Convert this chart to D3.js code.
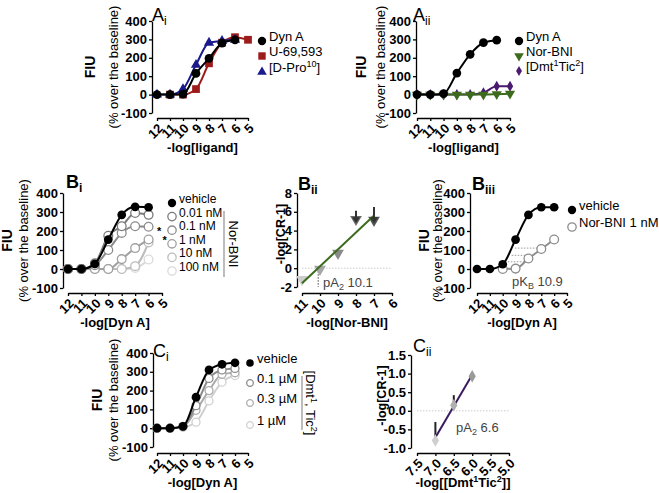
<!DOCTYPE html>
<html>
<head>
<meta charset="utf-8">
<script src="https://cdn.jsdelivr.net/npm/d3@7"></script>
<style>
  body { margin: 0; background: #fff; }
  text { font-family: 'Liberation Sans', Arial, sans-serif; }
</style>
</head>
<body>
<svg id="fig" width="659" height="493"></svg>
<script>
// ---- data ----
const logConc = [12, 11, 10, 9, 8, 7, 6, 5]

// A i : FIU vs -log[ligand]
const aiDynA = [0, 0, 3, 115, 197, 280, 297, null]
const aiU69593 = [null, 0, 0, 30, 170, 282, 312, 298]
const aiDPro10 = [0, 0, 30, 162, 282, 292, 298, null]

// A ii
const aiiDynA = [0, 0, 5, 117, 219, 282, 296, null]
const aiiNorBNI = [0, 0, 0, 0, 0, 0, 2, 5]
const aiiDmtTic = [0, 0, 0, 0, 0, 10, 45, 45]

// B i : Dyn A with Nor-BNI
const biVehicle = [0, 0, 27, 155, 285, 327, 325, null]
const biNor001 = [0, 0, 30, 175, 225, 295, 285, null]
const biNor01 = [0, 0, 20, 100, 190, 225, 222, null]
const biNor1 = [0, 0, 0, 0, 52, 110, 155, null]
const biNor10 = [0, 0, 0, 0, 0, 15, 140, null]
const biNor100 = [0, 0, 0, 0, 0, 5, 50, null]
const biStars = [{ x: 157, y: 228.5 }, { x: 162.5, y: 237.5 }] // significance stars (pixels)

// B ii : Schild plot Nor-BNI
const biiLogNor = [11, 10, 9, 8, 7]
const biiLogCR = [-1.2, -0.1, 1.6, 5.2, 5.1]
const biiFitX = [11, 7]
const biiFitY = [-1.6, 5.6]
const biiArrows = [{ x: 8, from: 6.1, to: 4.9 }, { x: 7, from: 6.5, to: 4.9 }]
const biiPA2 = 10.1

// B iii : vehicle vs Nor-BNI 1 nM
const biiiVehicle = [0, 0, 25, 155, 285, 325, 325, null]
const biiiNor1 = [null, null, 0, 2, 55, 105, 155, null]
const biiiShifts = [{ y: 110, x1: 9.05, x2: 7.0 }, { y: 72, x1: 9.3, x2: 7.6 }, { y: 38, x1: 9.6, x2: 8.1 }]

// C i : Dyn A with [Dmt1,Tic2]
const ciVehicle = [0, 0, 10, 165, 310, 340, 348, null]
const ciDmt01 = [0, 0, 10, 120, 265, 310, 318, null]
const ciDmt03 = [0, 0, 8, 95, 200, 287, 295, null]
const ciDmt1 = [0, 0, 5, 32, 145, 245, 280, null]

// C ii : Schild plot [Dmt1Tic2]
const ciiLogDmt = [7.0, 6.5, 6.0]
const ciiLogCR = [-0.8, 0.15, 0.93]
const ciiErrTop = [-0.3, 0.42, 1.0]
const ciiFitX = [7.0, 6.0]
const ciiFitY = [-0.72, 0.97]

const fiuTicks = [400, 300, 200, 100, 0, -100]

const svg = d3.select('#fig')

function panel (o) {
  const g = svg.append('g')
  const x = d3.scaleLinear().domain(o.xDom).range(o.xRange)
  const y = d3.scaleLinear().domain(o.yDom).range(o.yRange)
  const fmt = o.fmt || (d => String(d))
  const ya = g.append('g')
    .attr('transform', 'translate(' + o.axisX + ',0)')
    .call(d3.axisLeft(y).tickValues(o.yTicks).tickSize(3).tickSizeOuter(0).tickPadding(2).tickFormat(fmt))
  ya.selectAll('text').attr('font-size', 13).attr('font-weight', 'bold').attr('fill', '#000')
  const xa = g.append('g')
    .attr('transform', 'translate(0,' + o.axisY + ')')
    .call(d3.axisBottom(x).tickValues(o.xTicks).tickSize(3).tickSizeOuter(0).tickFormat(fmt))
  xa.selectAll('text')
    .attr('y', null).attr('dy', '0.35em')
    .attr('transform', 'translate(3,8) rotate(-45)')
    .attr('text-anchor', 'end')
    .attr('font-size', 13).attr('font-weight', 'bold').attr('fill', '#000')
  g.selectAll('.domain, .tick line').attr('stroke', '#000').attr('stroke-width', 1.3)
  // x title
  const xt = g.append('text')
    .attr('x', (o.xRange[0] + o.xRange[1]) / 2).attr('y', o.axisY + 34)
    .attr('text-anchor', 'middle').attr('font-size', 13).attr('font-weight', 'bold')
  o.xTitle.forEach(p => xt.append('tspan').text(p.t)
    .attr('font-size', p.sup ? 9 : 13).attr('dy', p.sup ? -5 : (p.back ? 5 : 0)))
  // y title
  const cy = (o.yRange[0] + o.yRange[1]) / 2
  if (o.fiu) {
    g.append('text').attr('transform', 'translate(' + (o.axisX + o.fiu[0]) + ',' + cy + ') rotate(-90)')
      .attr('text-anchor', 'middle').attr('font-size', 14).attr('font-weight', 'bold').attr('dy', '0.35em').text('FIU')
    g.append('text').attr('transform', 'translate(' + (o.axisX + o.fiu[1]) + ',' + cy + ') rotate(-90)')
      .attr('text-anchor', 'middle').attr('font-size', 13).attr('dy', '0.35em').text('(% over the baseline)')
  } else {
    g.append('text').attr('transform', 'translate(' + (o.axisX + o.yOff) + ',' + (cy - 6) + ') rotate(-90)')
      .attr('text-anchor', 'middle').attr('font-size', 12.5).attr('font-weight', 'bold').attr('dy', '0.35em').text('-log[CR-1]')
  }
  // panel title
  const tt = g.append('text').attr('x', o.title.x).attr('y', o.title.y)
    .attr('font-size', 18).attr('font-weight', o.title.bold ? 'bold' : 'normal')
  tt.append('tspan').text(o.title.l)
  tt.append('tspan').text(o.title.s).attr('font-size', 12).attr('dy', 4)
  return { g, x, y }
}

function symbolPath (type, size) {
  const t = { circle: d3.symbolCircle, square: d3.symbolSquare, triangle: d3.symbolTriangle, down: d3.symbolTriangle, diamond: d3.symbolDiamond, cross: d3.symbolCross }[type]
  return d3.symbol().type(t).size(size)()
}

function series (p, vals, st) {
  const pts = logConc.map((c, i) => ({ c, v: vals[i] })).filter(d => d.v !== null)
  const line = d3.line().x(d => p.x(d.c)).y(d => p.y(d.v)).curve(d3.curveMonotoneX)
  p.g.append('path').datum(pts).attr('d', line)
    .attr('fill', 'none').attr('stroke', st.color).attr('stroke-width', st.lw || 2)
  p.g.selectAll(null).data(pts).enter().append('path')
    .attr('d', symbolPath(st.shape, st.size || 60))
    .attr('transform', d => 'translate(' + p.x(d.c) + ',' + p.y(d.v) + ')' + (st.shape === 'down' ? ' rotate(180)' : ''))
    .attr('fill', st.open ? '#fff' : st.color)
    .attr('stroke', st.color).attr('stroke-width', st.open ? 1.3 : 0)
}

function legend (x, rows, fs) {
  fs = fs || 13
  rows.forEach(r => {
    svg.append('path').attr('d', symbolPath(r.shape, r.size || 55))
      .attr('transform', 'translate(' + x + ',' + r.y + ')' + (r.shape === 'down' ? ' rotate(180)' : ''))
      .attr('fill', r.open ? '#fff' : r.color).attr('stroke', r.color).attr('stroke-width', r.open ? 1.3 : 0)
    const t = svg.append('text').attr('x', x + 7).attr('y', r.y).attr('dy', '0.35em').attr('font-size', fs)
    r.parts.forEach(q => t.append('tspan').text(q.t)
      .attr('font-size', q.sup ? 9 : fs).attr('dy', q.sup ? -5 : (q.back ? 5 : 0)))
  })
}

const T = t => ({ t })
const S = t => ({ t, sup: true })
const B = t => ({ t, back: true })

// ---------- A i ----------
const pAi = panel({
  xDom: [12, 5], xRange: [157, 248], yDom: [-100, 400], yRange: [113, 21],
  axisX: 152, axisY: 118, xTicks: logConc, yTicks: fiuTicks, fiu: [-62, -39],
  xTitle: [T('-log[ligand]')], title: { x: 152, y: 21, l: 'A', s: 'i' }
})
series(pAi, aiU69593, { color: '#9e1b1b', shape: 'square', size: 60 })
series(pAi, aiDPro10, { color: '#1a1a8c', shape: 'triangle', size: 45 })
series(pAi, aiDynA, { color: '#000', shape: 'circle', size: 60 })
legend(262, [
  { y: 41, color: '#000', shape: 'circle', parts: [T('Dyn A')] },
  { y: 56, color: '#9e1b1b', shape: 'square', parts: [T('U-69,593')] },
  { y: 72, color: '#1a1a8c', shape: 'triangle', size: 40, parts: [T('[D-Pro'), S('10'), B(']')] }
])

// ---------- A ii ----------
const pAii = panel({
  xDom: [12, 5], xRange: [417, 510], yDom: [-100, 400], yRange: [113, 21],
  axisX: 416, axisY: 118, xTicks: logConc, yTicks: fiuTicks, fiu: [-55, -36],
  xTitle: [T('-log[ligand]')], title: { x: 413, y: 21, l: 'A', s: 'ii' }
})
series(pAii, aiiDmtTic, { color: '#4a1a6e', shape: 'diamond', size: 35 })
series(pAii, aiiNorBNI, { color: '#3d6b1e', shape: 'down', size: 45 })
series(pAii, aiiDynA, { color: '#000', shape: 'circle', size: 60 })
legend(519, [
  { y: 41, color: '#000', shape: 'circle', parts: [T('Dyn A')] },
  { y: 56, color: '#3d6b1e', shape: 'down', size: 40, parts: [T('Nor-BNI')] },
  { y: 71, color: '#4a1a6e', shape: 'diamond', size: 30, parts: [T('[Dmt'), S('1'), B('Tic'), S('2'), B(']')] }
])

// ---------- B i ----------
const pBi = panel({
  xDom: [12, 5], xRange: [68, 162], yDom: [-100, 400], yRange: [288, 193],
  axisX: 63, axisY: 293, xTicks: logConc, yTicks: fiuTicks, fiu: [-56, -40],
  xTitle: [T('-log[Dyn A]')], title: { x: 66, y: 188, l: 'B', s: 'i', bold: true }
})
const biGreys = ['#7a7a7a', '#8c8c8c', '#a0a0a0', '#bdbdbd', '#dadada']
series(pBi, biNor100, { color: biGreys[4], shape: 'circle', open: true })
series(pBi, biNor10, { color: biGreys[3], shape: 'circle', open: true })
series(pBi, biNor1, { color: biGreys[2], shape: 'circle', open: true })
series(pBi, biNor01, { color: biGreys[1], shape: 'circle', open: true })
series(pBi, biNor001, { color: biGreys[0], shape: 'circle', open: true })
series(pBi, biVehicle, { color: '#000', shape: 'circle' })
pBi.g.selectAll(null).data(biStars).enter().append('text')
  .attr('x', d => d.x).attr('y', d => d.y + 6.4).attr('font-size', 11).attr('font-weight', 'bold').text('*')
legend(172, [
  { y: 203, color: '#000', shape: 'circle', parts: [T('vehicle')] },
  { y: 216.6, color: biGreys[0], shape: 'circle', open: true, parts: [T('0.01 nM')] },
  { y: 230.2, color: biGreys[1], shape: 'circle', open: true, parts: [T('0.1 nM')] },
  { y: 243.8, color: biGreys[2], shape: 'circle', open: true, parts: [T('1 nM')] },
  { y: 257.4, color: biGreys[3], shape: 'circle', open: true, parts: [T('10 nM')] },
  { y: 271, color: biGreys[4], shape: 'circle', open: true, parts: [T('100 nM')] }
], 12)
svg.append('line').attr('x1', 224).attr('x2', 224).attr('y1', 211).attr('y2', 277).attr('stroke', '#999').attr('stroke-width', 1.3)
svg.append('text').attr('transform', 'translate(229,244) rotate(90)').attr('text-anchor', 'middle')
  .attr('font-size', 13).text('Nor-BNI')

// ---------- B ii ----------
const pBii = panel({
  xDom: [11, 6], xRange: [302, 392], yDom: [-2, 8], yRange: [287, 193],
  axisX: 297, axisY: 293, xTicks: [11, 10, 9, 8, 7, 6], yTicks: [8, 6, 4, 2, 0, -2], yOff: -16,
  xTitle: [T('-log[Nor-BNI]')], title: { x: 298, y: 190, l: 'B', s: 'ii', bold: true }
})
pBii.g.append('line').attr('x1', pBii.x(11)).attr('x2', pBii.x(6)).attr('y1', pBii.y(0)).attr('y2', pBii.y(0))
  .attr('stroke', '#ccc').attr('stroke-dasharray', '1.5,1.5')
pBii.g.append('line').attr('x1', pBii.x(biiPA2)).attr('x2', pBii.x(biiPA2)).attr('y1', pBii.y(0)).attr('y2', pBii.y(-2))
  .attr('stroke', '#444').attr('stroke-dasharray', '1.5,1.5')
const biiTri = ['#cdcdcd', '#a6a6a6', '#8a8a8a', '#6a6a6a', '#555']
pBii.g.selectAll(null).data(biiLogNor).enter().append('path')
  .attr('d', symbolPath('down', 60))
  .attr('transform', (d, i) => 'translate(' + pBii.x(d) + ',' + pBii.y(biiLogCR[i]) + ') rotate(180)')
  .attr('fill', (d, i) => biiTri[i])
pBii.g.append('path').datum(biiFitX.map((d, i) => [d, biiFitY[i]]))
  .attr('d', d3.line().x(d => pBii.x(d[0])).y(d => pBii.y(d[1])))
  .attr('stroke', '#3a6b1e').attr('stroke-width', 2).attr('fill', 'none')
biiArrows.forEach(a => {
  const ax = pBii.x(a.x); const y1 = pBii.y(a.from); const y2 = pBii.y(a.to)
  pBii.g.append('line').attr('x1', ax).attr('x2', ax).attr('y1', y1).attr('y2', y2 - 3)
    .attr('stroke', '#333').attr('stroke-width', 2)
  pBii.g.append('path').attr('d', 'M' + (ax - 4) + ',' + (y2 - 5) + 'L' + (ax + 4) + ',' + (y2 - 5) + 'L' + ax + ',' + (y2 + 1) + 'Z')
    .attr('fill', '#333')
})
const pa2 = pBii.g.append('text').attr('x', 323).attr('y', 287).attr('font-size', 13).attr('fill', '#444')
pa2.append('tspan').text('pA')
pa2.append('tspan').text('2').attr('font-size', 9).attr('dy', 3)
pa2.append('tspan').text(' 10.1').attr('dy', -3)

// ---------- B iii ----------
const pBiii = panel({
  xDom: [12, 5], xRange: [477, 567], yDom: [-100, 400], yRange: [288, 193],
  axisX: 470, axisY: 293, xTicks: logConc, yTicks: fiuTicks, fiu: [-46, -33],
  xTitle: [T('-log[Dyn A]')], title: { x: 472, y: 190, l: 'B', s: 'iii', bold: true }
})
pBiii.g.selectAll(null).data(biiiShifts).enter().append('line')
  .attr('x1', d => pBiii.x(d.x1)).attr('x2', d => pBiii.x(d.x2))
  .attr('y1', d => pBiii.y(d.y)).attr('y2', d => pBiii.y(d.y))
  .attr('stroke', '#999').attr('stroke-dasharray', '1.5,1.5')
series(pBiii, biiiNor1, { color: '#8c8c8c', shape: 'circle', open: true })
series(pBiii, biiiVehicle, { color: '#000', shape: 'circle' })
const pkb = pBiii.g.append('text').attr('x', 512).attr('y', 286).attr('font-size', 13).attr('fill', '#444')
pkb.append('tspan').text('pK')
pkb.append('tspan').text('B').attr('font-size', 9).attr('dy', 3)
pkb.append('tspan').text(' 10.9').attr('dy', -3)
legend(572, [
  { y: 210, color: '#000', shape: 'circle', parts: [T('vehicle')] },
  { y: 227, color: '#8c8c8c', shape: 'circle', open: true, parts: [T('Nor-BNI 1 nM')] }
])

// ---------- C i ----------
const pCi = panel({
  xDom: [12, 5], xRange: [157, 248], yDom: [-100, 400], yRange: [447, 353],
  axisX: 153, axisY: 453, xTicks: logConc, yTicks: fiuTicks, fiu: [-56, -40],
  xTitle: [T('-log[Dyn A]')], title: { x: 153, y: 357, l: 'C', s: 'i' }
})
const ciGreys = ['#8a8a8a', '#ababab', '#d0d0d0']
series(pCi, ciDmt1, { color: ciGreys[2], shape: 'circle', open: true, size: 50 })
series(pCi, ciDmt03, { color: ciGreys[1], shape: 'circle', open: true, size: 50 })
series(pCi, ciDmt01, { color: ciGreys[0], shape: 'circle', open: true, size: 50 })
series(pCi, ciVehicle, { color: '#000', shape: 'circle' })
legend(250, [
  { y: 363, color: '#000', shape: 'circle', size: 45, parts: [T('vehicle')] },
  { y: 383, color: ciGreys[0], shape: 'circle', open: true, size: 35, parts: [T('0.1 µM')] },
  { y: 403, color: ciGreys[1], shape: 'circle', open: true, size: 35, parts: [T('0.3 µM')] },
  { y: 425, color: ciGreys[2], shape: 'circle', open: true, size: 35, parts: [T('1 µM')] }
])
svg.append('line').attr('x1', 302).attr('x2', 302).attr('y1', 376).attr('y2', 430).attr('stroke', '#999').attr('stroke-width', 1.3)
const dmtLab = svg.append('text').attr('transform', 'translate(306,403) rotate(90)').attr('text-anchor', 'middle')
  .attr('font-size', 13)
dmtLab.append('tspan').text('[Dmt')
dmtLab.append('tspan').text('1').attr('font-size', 9).attr('dy', -5)
dmtLab.append('tspan').text(', Tic').attr('dy', 5)
dmtLab.append('tspan').text('2').attr('font-size', 9).attr('dy', -5)
dmtLab.append('tspan').text(']').attr('dy', 5)

// ---------- C ii ----------
const pCii = panel({
  xDom: [7.5, 5.0], xRange: [417, 509], yDom: [-1.0, 1.5], yRange: [448, 355],
  axisX: 411, axisY: 453, xTicks: [7.5, 7.0, 6.5, 6.0, 5.5, 5.0], yTicks: [1.5, 1.0, 0.5, 0.0, -0.5, -1.0], yOff: -29,
  fmt: d => d.toFixed(1),
  xTitle: [T('-log[[Dmt'), S('1'), B('Tic'), S('2'), B(']]')], title: { x: 413, y: 352, l: 'C', s: 'ii' }
})
pCii.g.append('line').attr('x1', pCii.x(7.5)).attr('x2', pCii.x(5.0)).attr('y1', pCii.y(0)).attr('y2', pCii.y(0))
  .attr('stroke', '#ccc').attr('stroke-dasharray', '1.5,1.5')
pCii.g.selectAll(null).data(ciiLogDmt).enter().append('line')
  .attr('x1', d => pCii.x(d)).attr('x2', d => pCii.x(d))
  .attr('y1', (d, i) => pCii.y(ciiLogCR[i])).attr('y2', (d, i) => pCii.y(ciiErrTop[i]))
  .attr('stroke', '#222').attr('stroke-width', 2)
pCii.g.append('path').datum(ciiFitX.map((d, i) => [d, ciiFitY[i]]))
  .attr('d', d3.line().x(d => pCii.x(d[0])).y(d => pCii.y(d[1])))
  .attr('stroke', '#3a1a5e').attr('stroke-width', 2).attr('fill', 'none')
const ciiCol = ['#cfcfcf', '#b0b0b0', '#9a9a9a']
pCii.g.selectAll(null).data(ciiLogDmt).enter().append('path')
  .attr('d', symbolPath('diamond', 45))
  .attr('transform', (d, i) => 'translate(' + pCii.x(d) + ',' + pCii.y(ciiLogCR[i]) + ')')
  .attr('fill', (d, i) => ciiCol[i])
const pa2c = pCii.g.append('text').attr('x', 456).attr('y', 432).attr('font-size', 13).attr('fill', '#444')
pa2c.append('tspan').text('pA')
pa2c.append('tspan').text('2').attr('font-size', 9).attr('dy', 3)
pa2c.append('tspan').text(' 6.6').attr('dy', -3)
</script>
</body>
</html>
